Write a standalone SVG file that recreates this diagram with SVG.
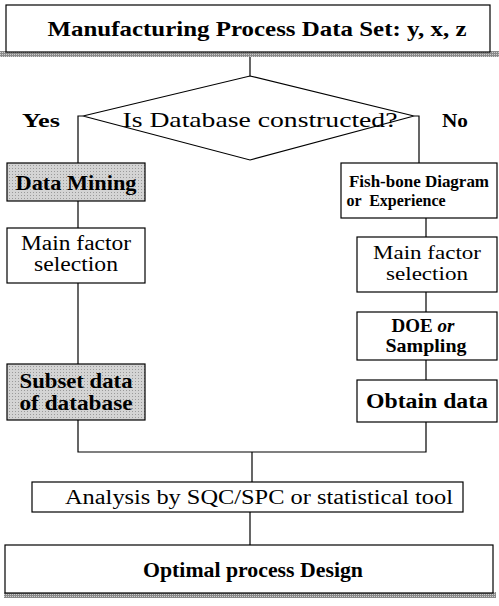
<svg xmlns="http://www.w3.org/2000/svg" width="499" height="606" viewBox="0 0 499 606">
<defs>
<pattern id="dots" width="3" height="3" patternUnits="userSpaceOnUse">
<rect width="3" height="3" fill="#d4d4d4"/>
<rect width="1" height="1" fill="#9a9a9a"/>
</pattern>
<pattern id="shade" width="2" height="2" patternUnits="userSpaceOnUse">
<rect width="2" height="2" fill="#8a8a8a"/>
<rect width="1" height="1" fill="#cfcfcf"/>
</pattern>
</defs>
<style>
.box{fill:#fff;stroke:#000;stroke-width:1.2}
.gbox{fill:url(#dots);stroke:#000;stroke-width:1.2}
.ln{fill:none;stroke:#000;stroke-width:1.2}
.t{fill:#000;text-anchor:middle}
.b{font-weight:bold}
</style>
<g id="connectors">
<polyline class="ln" points="250,52 250,76"/>
<polyline class="ln" points="83,116 78,116 78,163"/>
<polyline class="ln" points="414,116 419,116 419,163"/>
<polyline class="ln" points="78,201 78,228"/>
<polyline class="ln" points="78,283 78,364"/>
<polyline class="ln" points="78,420 78,452 426,452 426,422"/>
<polyline class="ln" points="426,218 426,237"/>
<polyline class="ln" points="426,292 426,312"/>
<polyline class="ln" points="426,360 426,380"/>
<polyline class="ln" points="252,452 252,482"/>
<polyline class="ln" points="250,512 250,545"/>
</g>
<g id="start">
<rect x="0" y="51" width="499" height="6" fill="url(#shade)"/>
<rect class="box" x="6" y="5" width="484" height="47"/>
<text class="t b" font-family="Liberation Serif, Times New Roman, serif" x="257" y="36" font-size="21" textLength="419" lengthAdjust="spacingAndGlyphs">Manufacturing Process Data Set: y, x, z</text>
</g>
<g id="decision">
<polygon class="box" points="250,76 414,116 250,160 83,116"/>
<text class="t" font-family="Liberation Serif, Times New Roman, serif" x="260" y="127" font-size="21" textLength="275" lengthAdjust="spacingAndGlyphs">Is Database constructed?</text>
</g>
<g id="label-yes"><text class="t b" font-family="Liberation Serif, Times New Roman, serif" x="41" y="127" font-size="19" textLength="38" lengthAdjust="spacingAndGlyphs">Yes</text></g>
<g id="label-no"><text class="t b" font-family="Liberation Serif, Times New Roman, serif" x="455" y="127" font-size="19" textLength="26" lengthAdjust="spacingAndGlyphs">No</text></g>
<g id="data-mining">
<rect class="gbox" x="7" y="163" width="138" height="38"/>
<text class="t b" font-family="Liberation Serif, Times New Roman, serif" x="76" y="190" font-size="21" textLength="121" lengthAdjust="spacingAndGlyphs">Data Mining</text>
</g>
<g id="main-factor-left">
<rect class="box" x="7" y="228" width="138" height="55"/>
<text class="t" font-family="Liberation Serif, Times New Roman, serif" x="76" y="250" font-size="20" textLength="110" lengthAdjust="spacingAndGlyphs">Main factor</text>
<text class="t" font-family="Liberation Serif, Times New Roman, serif" x="76" y="271" font-size="20" textLength="84" lengthAdjust="spacingAndGlyphs">selection</text>
</g>
<g id="subset">
<rect class="gbox" x="7" y="364" width="138" height="56"/>
<text class="t b" font-family="Liberation Serif, Times New Roman, serif" x="76" y="388" font-size="21" textLength="113" lengthAdjust="spacingAndGlyphs">Subset data</text>
<text class="t b" font-family="Liberation Serif, Times New Roman, serif" x="76" y="410" font-size="21" textLength="113" lengthAdjust="spacingAndGlyphs">of database</text>
</g>
<g id="fishbone">
<rect class="box" x="341" y="163" width="156" height="55"/>
<text class="t b" font-family="Liberation Serif, Times New Roman, serif" x="419" y="187" font-size="16" textLength="140" lengthAdjust="spacingAndGlyphs">Fish-bone Diagram</text>
<text class="t b" font-family="Liberation Serif, Times New Roman, serif" x="396" y="206" font-size="16" xml:space="preserve">or  Experience</text>
</g>
<g id="main-factor-right">
<rect class="box" x="357" y="237" width="140" height="55"/>
<text class="t" font-family="Liberation Serif, Times New Roman, serif" x="427" y="259" font-size="19" textLength="108" lengthAdjust="spacingAndGlyphs">Main factor</text>
<text class="t" font-family="Liberation Serif, Times New Roman, serif" x="427" y="280" font-size="19" textLength="82" lengthAdjust="spacingAndGlyphs">selection</text>
</g>
<g id="doe">
<rect class="box" x="357" y="312" width="140" height="48"/>
<text class="t b" font-family="Liberation Serif, Times New Roman, serif" x="423" y="332" font-size="19">DOE <tspan font-style="italic">or</tspan></text>
<text class="t b" font-family="Liberation Serif, Times New Roman, serif" x="426" y="352" font-size="19" textLength="81" lengthAdjust="spacingAndGlyphs">Sampling</text>
</g>
<g id="obtain">
<rect class="box" x="357" y="380" width="140" height="42"/>
<text class="t b" font-family="Liberation Serif, Times New Roman, serif" x="427" y="408" font-size="20" textLength="122" lengthAdjust="spacingAndGlyphs">Obtain data</text>
</g>
<g id="analysis">
<rect class="box" x="32" y="482" width="431" height="30"/>
<text class="t" font-family="Liberation Serif, Times New Roman, serif" x="259" y="504" font-size="20" textLength="388" lengthAdjust="spacingAndGlyphs">Analysis by SQC/SPC or statistical tool</text>
</g>
<g id="optimal">
<rect x="4" y="592" width="492" height="6" fill="url(#shade)"/>
<rect class="box" x="5" y="545" width="488" height="48"/>
<text class="t b" font-family="Liberation Serif, Times New Roman, serif" x="253" y="577" font-size="21" textLength="220" lengthAdjust="spacingAndGlyphs">Optimal process Design</text>
</g>
</svg>
